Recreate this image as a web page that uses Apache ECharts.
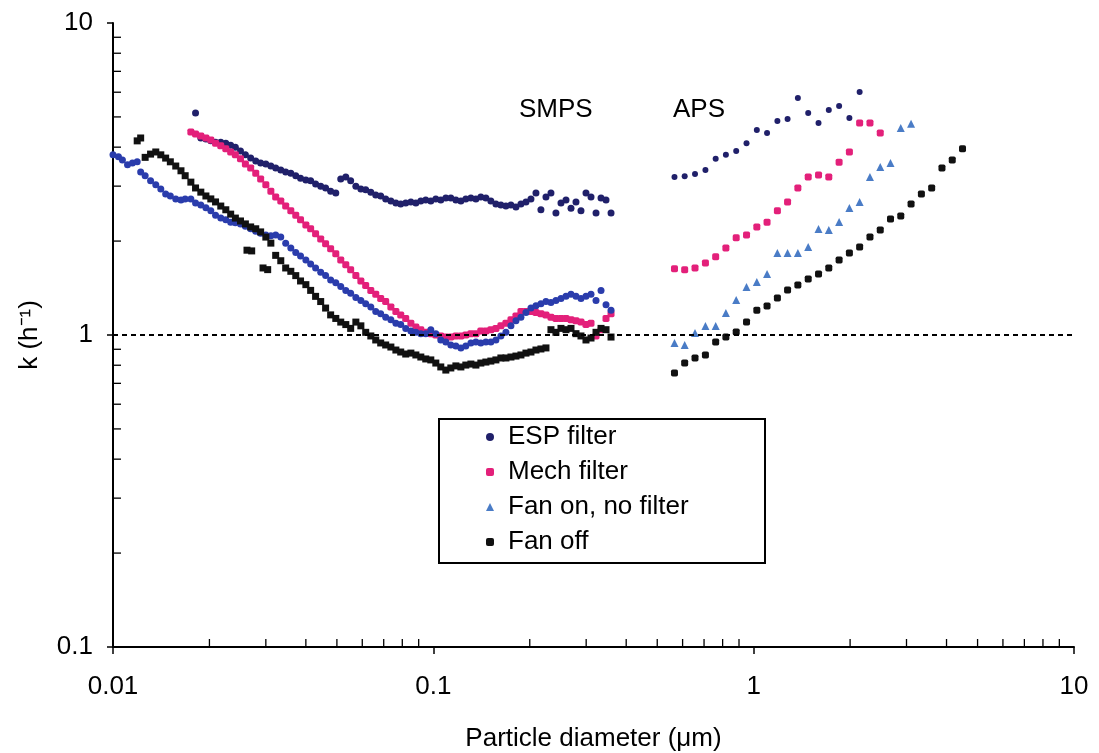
<!DOCTYPE html>
<html>
<head>
<meta charset="utf-8">
<script src="https://cdn.jsdelivr.net/npm/echarts@6/dist/echarts.min.js"></script>
<style>
html,body{margin:0;padding:0;background:#fff;}
#chart{width:1099px;height:753px;}
</style>
</head>
<body>
<div id="chart"></div>
<script>
// ---------- DATA ----------
const smpsDiameters = [0.0100,0.0104,0.0107,0.0111,0.0115,0.0119,0.0122,0.0126,0.0131,0.0136,
0.0141,0.0146,0.0151,0.0157,0.0163,0.0168,0.0175,0.0181,0.0188,0.0195,
0.0202,0.0209,0.0217,0.0225,0.0233,0.0241,0.0250,0.0259,0.0269,0.0279,
0.0289,0.0300,0.0311,0.0322,0.0334,0.0346,0.0359,0.0372,0.0385,0.0400,
0.0414,0.0429,0.0445,0.0461,0.0478,0.0496,0.0514,0.0533,0.0552,0.0573,
0.0594,0.0615,0.0638,0.0661,0.0685,0.0710,0.0737,0.0764,0.0791,0.0820,
0.0851,0.0882,0.0914,0.0947,0.0982,0.1018,0.1055,0.1094,0.1134,0.1176,
0.1219,0.1263,0.1310,0.1358,0.1407,0.1459,0.1512,0.1568,0.1625,0.1685,
0.1747,0.1811,0.1877,0.1946,0.2017,0.2091,0.2167,0.2247,0.2329,0.2414,
0.2503,0.2595,0.2690,0.2788,0.2890,0.2996,0.3106,0.3220,0.3338,0.3460,
0.3587];

const espSmps = [null,null,null,null,null,null,null,null,null,null,
null,null,null,null,null,null,null,5.15,4.28,4.25,
4.19,4.15,4.15,4.12,4.06,4.00,3.89,3.78,3.69,3.61,
3.56,3.53,3.48,3.43,3.38,3.33,3.30,3.24,3.18,3.14,
3.12,3.05,3.00,2.96,2.89,2.85,3.16,3.21,3.12,3.00,
2.94,2.92,2.87,2.81,2.79,2.73,2.69,2.65,2.63,2.65,
2.67,2.65,2.69,2.71,2.69,2.73,2.71,2.75,2.75,2.71,
2.69,2.73,2.75,2.73,2.77,2.75,2.69,2.63,2.61,2.59,
2.61,2.57,2.63,2.67,2.73,2.85,2.52,2.77,2.85,2.46,
2.65,2.71,2.55,2.67,2.50,2.85,2.77,2.46,2.75,2.71,
2.46];

const mechSmps = [null,null,null,null,null,null,null,null,null,null,
null,null,null,null,null,null,4.47,4.41,4.34,4.28,
4.22,4.12,4.04,3.95,3.86,3.78,3.67,3.53,3.43,3.30,
3.16,3.03,2.89,2.77,2.69,2.59,2.50,2.42,2.34,2.25,
2.19,2.11,2.03,1.96,1.89,1.82,1.74,1.68,1.62,1.55,
1.49,1.44,1.39,1.35,1.31,1.28,1.23,1.19,1.16,1.13,
1.09,1.06,1.04,1.02,1.01,1.00,0.993,0.985,0.985,0.993,
0.993,1.00,1.01,1.01,1.03,1.03,1.04,1.05,1.07,1.09,
1.12,1.15,1.19,1.19,1.19,1.18,1.17,1.16,1.14,1.13,
1.13,1.13,1.12,1.11,1.10,1.08,1.09,0.993,1.04,1.13,
1.17];

const fanOnSmps = [3.78,3.73,3.64,3.51,3.56,3.59,3.33,3.24,3.12,3.03,
2.94,2.83,2.79,2.73,2.71,2.73,2.73,2.65,2.61,2.56,
2.50,2.42,2.37,2.34,2.30,2.29,2.27,2.23,2.19,2.15,
2.12,2.09,2.08,2.09,2.06,1.97,1.90,1.84,1.79,1.74,
1.69,1.64,1.59,1.55,1.50,1.47,1.43,1.39,1.36,1.32,
1.29,1.26,1.23,1.19,1.17,1.14,1.12,1.09,1.08,1.05,
1.03,1.02,1.01,1.01,1.04,1.01,0.964,0.950,0.929,0.922,
0.909,0.922,0.943,0.950,0.943,0.950,0.950,0.964,0.993,1.02,
1.07,1.11,1.14,1.18,1.22,1.24,1.26,1.28,1.27,1.29,
1.31,1.33,1.35,1.33,1.31,1.33,1.35,1.29,1.39,1.25,
1.20];

const fanOffSmps = [null,null,null,null,null,4.19,4.28,3.71,3.80,3.86,
3.78,3.69,3.59,3.48,3.36,3.24,3.09,2.96,2.87,2.79,
2.73,2.67,2.59,2.52,2.44,2.37,2.32,2.27,2.22,2.19,
2.14,2.06,1.97,1.80,1.73,1.64,1.60,1.55,1.49,1.45,
1.39,1.33,1.28,1.22,1.16,1.13,1.10,1.08,1.05,1.10,
1.07,1.02,0.993,0.964,0.943,0.929,0.915,0.895,0.882,0.869,
0.875,0.863,0.850,0.838,0.832,0.813,0.790,0.772,0.784,0.796,
0.790,0.801,0.807,0.801,0.813,0.819,0.825,0.832,0.844,0.844,
0.850,0.856,0.863,0.875,0.882,0.895,0.902,0.909,1.04,1.02,
1.05,1.04,1.05,1.01,0.993,0.964,0.978,1.02,1.05,1.04,
0.985];

// second (lower) row of Fan-off SMPS points around 0.026-0.030 um
const fanOffSmpsExtraDiam = [0.0262,0.0271,0.0294,0.0304];
const fanOffSmpsExtraK = [1.87,1.86,1.64,1.62];

const apsDiameters = [0.566,0.609,0.656,0.707,0.761,0.819,0.882,0.950,1.023,1.101,
1.186,1.276,1.374,1.480,1.594,1.716,1.848,1.990,2.142,2.307,
2.484,2.674,2.879,3.100,3.339,3.595,3.871,4.168,4.487];

const espAps = [3.21,3.23,3.28,3.38,3.67,3.78,3.89,4.12,4.54,4.44,4.85,4.92,5.75,5.15,4.78,5.26,5.42,4.96,6.01];
const mechAps = [1.63,1.62,1.64,1.70,1.78,1.90,2.05,2.09,2.22,2.30,2.50,2.67,2.96,3.21,3.26,3.21,3.58,3.86,4.78,4.78,4.44];
const fanOnAps = [0.943,0.929,1.015,1.069,1.069,1.176,1.295,1.425,1.479,1.569,1.832,1.832,1.832,1.915,2.186,2.170,2.302,2.554,2.67,3.21,3.455,3.56,4.61,4.75];
const fanOffAps = [0.755,0.813,0.844,0.863,0.950,0.985,1.022,1.10,1.20,1.239,1.314,1.394,1.446,1.512,1.569,1.639,1.739,1.832,1.915,2.062,2.170,2.354,2.407,2.63,2.83,2.96,3.43,3.64,3.95];

const seriesNames = ['ESP filter','Mech filter','Fan on, no filter','Fan off'];
const xMinorTicks = [0.02,0.03,0.04,0.05,0.06,0.07,0.08,0.09,0.2,0.3,0.4,0.5,0.6,0.7,0.8,0.9,2,3,4,5,6,7,8,9];
const yMinorTicks = [0.2,0.3,0.4,0.5,0.6,0.7,0.8,0.9,2,3,4,5,6,7,8,9];
const referenceLevel = 1;
const instrumentLabels = ['SMPS','APS'];

// ---------- BUILD ----------
const FONT = 'Liberation Sans, Arial, Helvetica, sans-serif';
function zip(xs, ys){ const out=[]; ys.forEach((v,i)=>{ if(v!=null) out.push([xs[i], v]); }); return out; }

const C_ESP = '#20206a', C_MECH = '#e3207a', C_FANON_S = '#2a3cac', C_FANON_A = '#4a7cc6', C_OFF = '#111111';

function sc(name, data, color, symbol, size){
  return {type:'scatter', name, data, symbol, symbolSize:size, itemStyle:{color, opacity:1}, silent:true, z:3};
}

const series = [
  sc('ESP filter', zip(apsDiameters, espAps), C_ESP, 'circle', 6),
  sc('ESP filter', zip(smpsDiameters, espSmps), C_ESP, 'circle', 7),
  sc('Mech filter', zip(apsDiameters, mechAps), C_MECH, 'roundRect', 7),
  sc('Mech filter', zip(smpsDiameters, mechSmps), C_MECH, 'roundRect', 7),
  sc('Fan on, no filter', zip(apsDiameters, fanOnAps), C_FANON_A, 'triangle', 8),
  sc('Fan on, no filter', zip(smpsDiameters, fanOnSmps), C_FANON_S, 'circle', 7),
  sc('Fan off', zip(apsDiameters, fanOffAps), C_OFF, 'roundRect', 7),
  sc('Fan off', zip(smpsDiameters, fanOffSmps), C_OFF, 'rect', 7),
  sc('Fan off', zip(fanOffSmpsExtraDiam, fanOffSmpsExtraK), C_OFF, 'rect', 7),
  {
    type:'line', data:[], silent:true,
    markLine:{silent:true, symbol:['none','none'], label:{show:false},
      lineStyle:{color:'#000', type:[5,4], width:1.8},
      data:[{yAxis: referenceLevel}]}
  },
  {
    type:'custom', silent:true, clip:false, z:5,
    data: xMinorTicks.map(v=>[v, 0.1]),
    renderItem:(p, api)=>{ const c = api.coord([api.value(0), api.value(1)]);
      return {type:'line', shape:{x1:c[0], y1:c[1], x2:c[0], y2:c[1]-8}, style:{stroke:'#000', lineWidth:1.3}}; }
  },
  {
    type:'custom', silent:true, clip:false, z:5,
    data: yMinorTicks.map(v=>[0.01, v]),
    renderItem:(p, api)=>{ const c = api.coord([api.value(0), api.value(1)]);
      return {type:'line', shape:{x1:c[0], y1:c[1], x2:c[0]+8, y2:c[1]}, style:{stroke:'#000', lineWidth:1.3}}; }
  }
];

function fmt(v){ return String(+(+v).toPrecision(3)); }

const option = {
  animation:false,
  backgroundColor:'#fff',
  grid:{left:113, right:25, top:23, bottom:106, containLabel:false, outerBoundsMode:'none'},
  legend:{
    data: seriesNames, orient:'vertical', left:486, top:424, padding:0,
    itemWidth:8, itemHeight:8, itemGap:9, selectedMode:false,
    textStyle:{fontSize:26, fontFamily:FONT, color:'#000', padding:[0,0,0,9]}
  },
  xAxis:{
    type:'log', logBase:10, min:0.01, max:10,
    name:'Particle diameter (\u03bcm)', nameLocation:'middle', nameGap:79,
    nameTextStyle:{fontSize:26, fontFamily:FONT, color:'#000'},
    axisLine:{show:true, lineStyle:{color:'#000', width:2}},
    axisTick:{show:true, inside:false, length:7, lineStyle:{color:'#000', width:1.5}},
    axisLabel:{fontSize:26, fontFamily:FONT, color:'#000', margin:27, formatter:fmt},
    splitLine:{show:false}, minorTick:{show:false}
  },
  yAxis:{
    type:'log', logBase:10, min:0.1, max:10,
    name:'k (h\u207b\u00b9)', nameLocation:'middle', nameGap:70, nameRotate:90,
    nameTextStyle:{fontSize:26, fontFamily:FONT, color:'#000'},
    axisLine:{show:true, lineStyle:{color:'#000', width:2}},
    axisTick:{show:true, inside:false, length:6, lineStyle:{color:'#000', width:1.5}},
    axisLabel:{fontSize:26, fontFamily:FONT, color:'#000', margin:20, formatter:fmt},
    splitLine:{show:false}, minorTick:{show:false}
  },
  graphic:[
    {type:'text', x:519, y:110, style:{text:instrumentLabels[0], fontSize:26, fontFamily:FONT, fill:'#000', align:'left', verticalAlign:'middle'}},
    {type:'text', x:673, y:110, style:{text:instrumentLabels[1], fontSize:26, fontFamily:FONT, fill:'#000', align:'left', verticalAlign:'middle'}},
    {type:'rect', shape:{x:439, y:419, width:326, height:144}, style:{fill:'rgba(0,0,0,0)', stroke:'#000', lineWidth:2}, z:10}
  ],
  series
};

const chart = echarts.init(document.getElementById('chart'), null, {renderer:'canvas'});
chart.setOption(option);
</script>
</body>
</html>
